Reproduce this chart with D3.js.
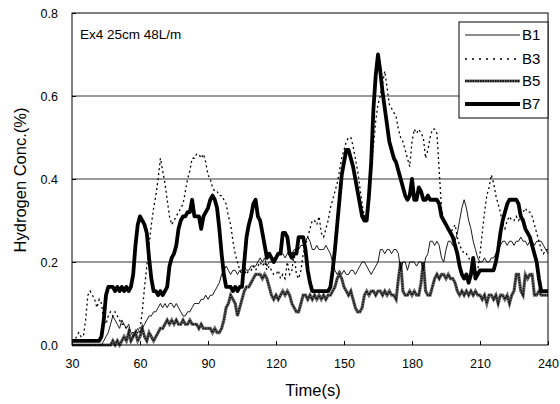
<!DOCTYPE html>
<html><head><meta charset="utf-8">
<script src="https://cdn.jsdelivr.net/npm/d3@7"></script>
<style>body{margin:0;background:#fff}svg{display:block}text{font-family:"Liberation Sans",Arial,sans-serif}</style>
</head><body>
<svg id="c" width="560" height="404"></svg>
<script>
const time = d3.range(30, 241, 1);
const seriesNames = ["B1","B3","B5","B7"];
const yTicks = [0.0,0.2,0.4,0.6,0.8];
const xTicks = [30,60,90,120,150,180,210,240];
const B7 = [
0.01,0.01,0.01,0.01,0.01,0.01,0.01,0.01,0.01,0.01,
0.01,0.01,0.01,0.02,0.06,0.12,0.14,0.14,0.14,0.13,
0.14,0.13,0.14,0.13,0.14,0.13,0.14,0.17,0.24,0.29,
0.31,0.30,0.29,0.27,0.21,0.16,0.13,0.13,0.12,0.13,
0.12,0.13,0.14,0.19,0.21,0.22,0.24,0.28,0.30,0.31,
0.31,0.32,0.32,0.35,0.31,0.31,0.31,0.28,0.31,0.32,
0.33,0.35,0.36,0.35,0.33,0.28,0.22,0.17,0.14,0.14,
0.14,0.13,0.14,0.13,0.14,0.14,0.20,0.26,0.29,0.31,
0.34,0.35,0.31,0.30,0.27,0.24,0.21,0.22,0.21,0.20,
0.21,0.22,0.22,0.27,0.27,0.26,0.22,0.21,0.22,0.22,
0.26,0.26,0.26,0.23,0.18,0.15,0.13,0.13,0.13,0.13,
0.13,0.13,0.13,0.13,0.14,0.18,0.23,0.29,0.35,0.41,
0.44,0.47,0.47,0.45,0.43,0.40,0.37,0.34,0.31,0.30,
0.30,0.36,0.44,0.57,0.65,0.70,0.66,0.61,0.57,0.53,
0.49,0.47,0.45,0.44,0.42,0.40,0.38,0.36,0.35,0.36,
0.40,0.35,0.35,0.38,0.37,0.35,0.35,0.36,0.35,0.35,
0.35,0.35,0.34,0.31,0.30,0.29,0.28,0.27,0.26,0.24,
0.22,0.19,0.17,0.16,0.17,0.15,0.17,0.21,0.16,0.17,
0.18,0.18,0.18,0.18,0.18,0.18,0.18,0.20,0.23,0.27,
0.30,0.32,0.34,0.35,0.35,0.35,0.35,0.34,0.31,0.30,
0.28,0.27,0.26,0.24,0.22,0.20,0.16,0.13,0.13,0.13,
0.13];
const B3 = [
0.01,0.01,0.02,0.03,0.02,0.02,0.06,0.12,0.13,0.12,
0.11,0.09,0.11,0.10,0.06,0.05,0.07,0.08,0.07,0.08,
0.07,0.06,0.05,0.05,0.04,0.04,0.03,0.03,0.03,0.03,
0.04,0.08,0.14,0.19,0.24,0.29,0.33,0.36,0.40,0.45,
0.42,0.39,0.35,0.31,0.29,0.30,0.31,0.32,0.33,0.34,
0.37,0.40,0.42,0.45,0.45,0.46,0.46,0.45,0.46,0.44,
0.41,0.40,0.38,0.37,0.37,0.36,0.36,0.35,0.34,0.31,
0.29,0.25,0.22,0.20,0.18,0.17,0.18,0.17,0.18,0.18,
0.19,0.18,0.19,0.20,0.19,0.20,0.18,0.19,0.18,0.17,
0.17,0.18,0.16,0.17,0.16,0.20,0.17,0.18,0.22,0.17,
0.16,0.18,0.22,0.24,0.26,0.28,0.30,0.30,0.29,0.31,
0.27,0.26,0.28,0.30,0.33,0.35,0.37,0.39,0.42,0.45,
0.47,0.49,0.50,0.50,0.48,0.45,0.42,0.38,0.34,0.31,
0.32,0.36,0.42,0.48,0.54,0.58,0.60,0.63,0.66,0.62,
0.58,0.57,0.56,0.55,0.52,0.50,0.49,0.47,0.45,0.43,
0.49,0.52,0.51,0.52,0.51,0.50,0.45,0.47,0.50,0.52,
0.52,0.51,0.42,0.33,0.30,0.29,0.28,0.27,0.28,0.29,
0.26,0.24,0.23,0.22,0.22,0.21,0.20,0.19,0.17,0.18,
0.22,0.27,0.32,0.36,0.38,0.41,0.39,0.36,0.34,0.32,
0.29,0.28,0.30,0.31,0.30,0.30,0.31,0.30,0.31,0.32,
0.33,0.32,0.32,0.31,0.29,0.27,0.25,0.23,0.22,0.23,
0.23];
const B1 = [
0,0,0,0,0,0,0,0,0,0,
0,0,0,0,0.01,0.02,0.03,0.05,0.07,0.06,
0.05,0.04,0.06,0.05,0.04,0.05,0.03,0.02,0.03,0.04,
0.03,0.04,0.05,0.06,0.07,0.07,0.08,0.08,0.09,0.10,
0.09,0.10,0.09,0.10,0.10,0.09,0.10,0.09,0.08,0.07,
0.07,0.08,0.08,0.09,0.10,0.10,0.10,0.11,0.11,0.12,
0.11,0.12,0.12,0.13,0.14,0.15,0.17,0.18,0.19,0.18,
0.17,0.18,0.18,0.17,0.18,0.18,0.19,0.18,0.18,0.19,
0.19,0.19,0.20,0.21,0.20,0.21,0.19,0.20,0.20,0.21,
0.21,0.22,0.22,0.22,0.21,0.22,0.23,0.22,0.23,0.23,
0.23,0.24,0.24,0.25,0.26,0.25,0.23,0.23,0.24,0.23,
0.23,0.23,0.24,0.23,0.22,0.20,0.18,0.17,0.18,0.17,
0.18,0.17,0.17,0.18,0.18,0.17,0.18,0.19,0.20,0.20,
0.19,0.18,0.17,0.18,0.19,0.20,0.23,0.23,0.22,0.23,
0.23,0.22,0.23,0.23,0.22,0.18,0.20,0.20,0.18,0.20,
0.20,0.20,0.19,0.20,0.20,0.18,0.21,0.22,0.25,0.25,
0.24,0.25,0.24,0.21,0.20,0.23,0.25,0.25,0.24,0.25,
0.27,0.30,0.33,0.35,0.33,0.30,0.28,0.25,0.23,0.21,
0.20,0.20,0.21,0.20,0.20,0.21,0.21,0.22,0.23,0.24,
0.25,0.25,0.24,0.25,0.25,0.24,0.25,0.25,0.26,0.25,
0.25,0.24,0.25,0.25,0.24,0.25,0.25,0.25,0.24,0.23,
0.22];
const B5 = [
0,0,0,0,0,0,0,0,0,0,
0,0,0,0,0,0,0,0,0.01,0,
0.01,0,0.01,0.02,0.01,0.03,0.01,0.02,0.03,0.01,
0.02,0.04,0.02,0.01,0.03,0.02,0.01,0.02,0.03,0.04,
0.04,0.05,0.06,0.05,0.06,0.05,0.06,0.05,0.05,0.06,
0.05,0.05,0.06,0.05,0.05,0.05,0.04,0.05,0.04,0.04,
0.04,0.04,0.03,0.04,0.03,0.03,0.04,0.06,0.09,0.10,
0.12,0.11,0.10,0.07,0.09,0.11,0.13,0.14,0.14,0.15,
0.16,0.17,0.17,0.17,0.16,0.17,0.16,0.14,0.12,0.11,
0.12,0.11,0.12,0.13,0.12,0.13,0.12,0.10,0.09,0.08,
0.08,0.10,0.12,0.12,0.11,0.12,0.11,0.12,0.11,0.12,
0.11,0.12,0.11,0.12,0.12,0.13,0.14,0.16,0.17,0.16,
0.14,0.13,0.12,0.13,0.11,0.09,0.08,0.08,0.09,0.12,
0.13,0.12,0.13,0.13,0.12,0.13,0.13,0.12,0.13,0.12,
0.13,0.12,0.12,0.11,0.16,0.20,0.13,0.12,0.12,0.13,
0.12,0.13,0.12,0.12,0.15,0.20,0.13,0.12,0.12,0.14,
0.16,0.17,0.16,0.17,0.17,0.16,0.17,0.16,0.16,0.15,
0.13,0.12,0.13,0.12,0.13,0.12,0.13,0.12,0.13,0.12,
0.12,0.11,0.12,0.10,0.12,0.12,0.11,0.12,0.10,0.12,
0.12,0.11,0.12,0.10,0.12,0.13,0.17,0.17,0.13,0.12,
0.17,0.16,0.17,0.17,0.12,0.12,0.13,0.12,0.12,0.12,
0.12];

const svg = d3.select("#c");
const L = 72, R = 548, T = 13, Bm = 345;
const x = d3.scaleLinear().domain([30,240]).range([L,R]);
const y = d3.scaleLinear().domain([0,0.8]).range([Bm,T]);

// grid
svg.append("g").selectAll("line").data([0.2,0.4,0.6]).join("line")
  .attr("x1",L).attr("x2",R).attr("y1",d=>y(d)).attr("y2",d=>y(d))
  .attr("stroke","#000").attr("stroke-width",0.8);

// axes
const xa = svg.append("g").attr("transform",`translate(0,${Bm})`)
  .call(d3.axisBottom(x).tickValues(xTicks).tickSize(-4).tickPadding(14).tickFormat(d3.format("d")));
const ya = svg.append("g").attr("transform",`translate(${L},0)`)
  .call(d3.axisLeft(y).tickValues(yTicks).tickSize(-4).tickPadding(14).tickFormat(d3.format(".1f")));
[xa,ya].forEach(a=>{a.select(".domain").remove();
  a.selectAll("text").attr("font-size",12.5).attr("fill","#000").attr("font-family","Liberation Sans, Arial, sans-serif");
  a.selectAll("line").attr("stroke","#000");});

const line = d3.line().x((d,i)=>x(time[i])).y(d=>y(d));
const g = svg.append("g");
function drawB5(sel, d){
  sel.append("path").attr("d",d).attr("fill","none").attr("stroke","#6a6a6a").attr("stroke-width",3.2);
  sel.append("path").attr("d",d).attr("fill","none").attr("stroke","#111").attr("stroke-width",1.8).attr("stroke-dasharray","1.5,1");
}
drawB5(g, line(B5));
g.append("path").attr("d",line(B1)).attr("fill","none").attr("stroke","#000").attr("stroke-width",0.9);
g.append("path").attr("d",line(B3)).attr("fill","none").attr("stroke","#000").attr("stroke-width",1.3).attr("stroke-dasharray","2,3");
g.append("path").attr("d",line(B7)).attr("fill","none").attr("stroke","#000").attr("stroke-width",3.8).attr("stroke-linejoin","round");

// frame
svg.append("rect").attr("x",L).attr("y",T).attr("width",R-L).attr("height",Bm-T)
  .attr("fill","none").attr("stroke","#000").attr("stroke-width",1);

// title
svg.append("text").attr("x",80).attr("y",39).attr("font-size",13.5).text("Ex4 25cm 48L/m");

// legend
const lg = svg.append("g");
lg.append("rect").attr("x",459).attr("y",22).attr("width",R-459).attr("height",96)
  .attr("fill","#fff").attr("stroke","#000").attr("stroke-width",1);
const ly = [35,59,81,104];
seriesNames.forEach((n,i)=>{
  const d = `M465,${ly[i]}L520,${ly[i]}`;
  if(n==="B1") lg.append("path").attr("d",d).attr("stroke","#000").attr("stroke-width",0.9);
  if(n==="B3") lg.append("path").attr("d",d).attr("stroke","#000").attr("stroke-width",1.3).attr("stroke-dasharray","2,5");
  if(n==="B5") drawB5(lg,d);
  if(n==="B7") lg.append("path").attr("d",d).attr("stroke","#000").attr("stroke-width",3.8);
  lg.append("text").attr("x",522).attr("y",ly[i]+5).attr("font-size",15).text(n);
});

// axis titles
svg.append("text").attr("x",313).attr("y",396).attr("text-anchor","middle").attr("font-size",16.5).text("Time(s)");
svg.append("text").attr("transform","translate(26,180) rotate(-90)").attr("text-anchor","middle").attr("font-size",16.5).text("Hydrogen Conc.(%)");
</script>
</body></html>
